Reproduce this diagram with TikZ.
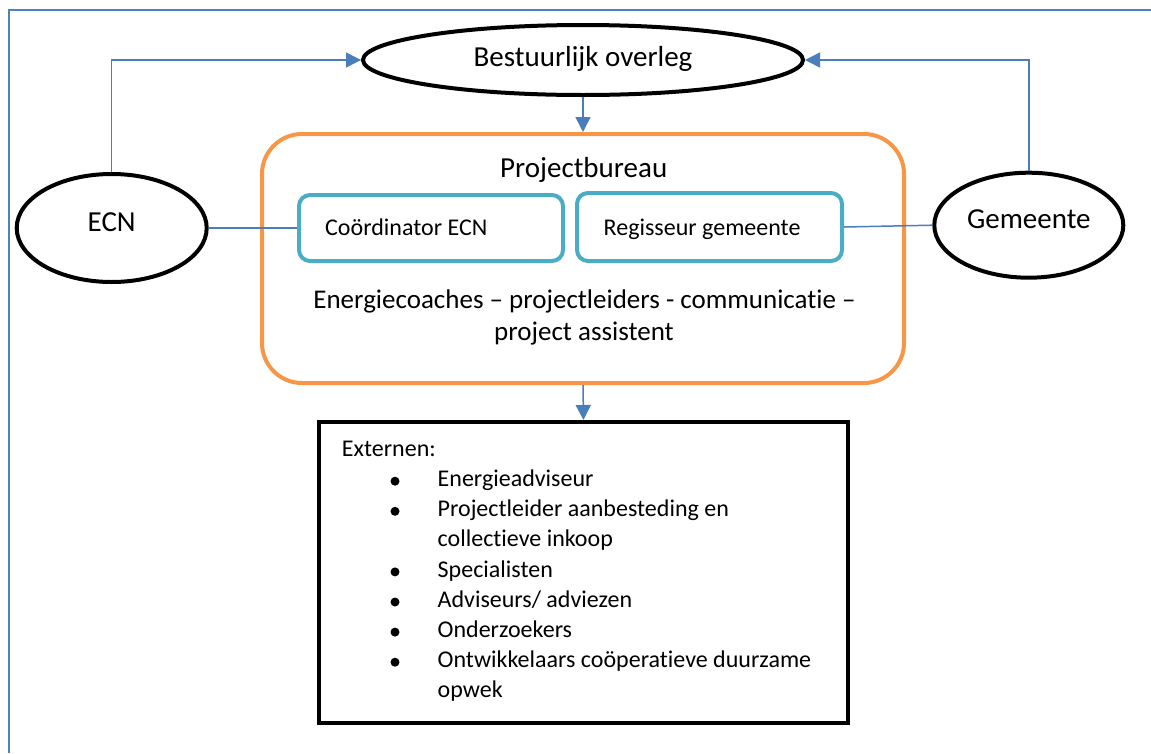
\documentclass[tikz,border=0pt]{standalone}
\usepackage{fontspec}
\setmainfont{Carlito}[Ligatures=NoCommon]
\usetikzlibrary{shapes.geometric,arrows.meta}
\definecolor{connblue}{RGB}{74,126,187}
\definecolor{borderblue}{RGB}{79,129,189}
\definecolor{pborange}{RGB}{247,150,70}
\definecolor{roleteal}{RGB}{75,172,198}
\begin{document}
\begin{tikzpicture}[x=1pt,y=-1pt,
  big/.style={font=\fontsize{29}{34}\selectfont, inner sep=0pt},
  mid/.style={font=\fontsize{27}{32}\selectfont, inner sep=0pt},
  small/.style={font=\fontsize{24}{30}\selectfont, inner sep=0pt},
  oval/.style={ellipse, draw=black, line width=4pt, inner sep=0pt, fill=white,
    font=\fontsize{29}{34}\selectfont, text height=20pt},
  conn/.style={draw=connblue, line width=1.5pt},
  arr/.style={conn, -{Triangle[length=15pt,width=15pt]}},
  rolebox/.style={draw=roleteal, line width=4pt, rounded corners=11pt, inner sep=0pt},
  pbbox/.style={draw=pborange, line width=4pt, rounded corners=40pt, inner sep=0pt},
  extbox/.style={draw=black, line width=4pt, inner sep=0pt},
  bulletdot/.style={circle, fill=black, inner sep=0pt, minimum size=9pt},
  frame/.style={draw=borderblue, line width=2pt}
]
\useasboundingbox (0,0) rectangle (1151,753);
\draw[frame] (1151,10) -- (9,10) -- (9,753);

% ovals
\node[oval, minimum width=440pt, minimum height=70pt, text depth=6.6pt] (bestuur) at (583,60) {Bestuurlijk overleg};
\node[oval, minimum width=190pt, minimum height=108pt, text depth=14pt] (ecn) at (111.7,228) {ECN};
\node[oval, minimum width=189pt, minimum height=105pt, text depth=13pt] (gem) at (1028.8,225.2) {Gemeente};

% projectbureau
\node[pbbox, minimum width=642pt, minimum height=249pt] (pb) at (583,258.5) {};
\node[big, anchor=base] (pbtitle) at (583.7,177) {Projectbureau};
\node[mid, anchor=base] (pbstaff1) at (584.5,308) {Energiecoaches – projectleiders - communicatie –};
\node[mid, anchor=base] (pbstaff2) at (584,340) {project assistent};

\node[rolebox, minimum width=264pt, minimum height=66pt] (coord) at (431,228) {};
\node[small, anchor=base west] (coordt) at (325,235) {Coördinator ECN};
\node[rolebox, minimum width=265pt, minimum height=68pt] (regis) at (709.5,227) {};
\node[small, anchor=base west] (regist) at (603.5,235) {Regisseur gemeente};

% externen
\node[extbox, minimum width=529pt, minimum height=301pt] (ext) at (583.5,572.5) {};
\node[small, anchor=base west] (exttitle) at (341.7,456) {Externen:};
\node[small, anchor=base west] (e1) at (437.5,486.7) {Energieadviseur};
\node[small, anchor=base west] (e2) at (437.5,516.8) {Projectleider aanbesteding en};
\node[small, anchor=base west] (e2b) at (437.5,546.8) {collectieve inkoop};
\node[small, anchor=base west] (e3) at (437.5,577.4) {Specialisten};
\node[small, anchor=base west] (e4) at (437.5,607.5) {Adviseurs/ adviezen};
\node[small, anchor=base west] (e5) at (437.5,637.6) {Onderzoekers};
\node[small, anchor=base west] (e6) at (437.5,667.7) {Ontwikkelaars coöperatieve duurzame};
\node[small, anchor=base west] (e6b) at (437.5,697.5) {opwek};
\foreach \n/\y in {1/486.7,2/516.8,3/577.4,4/607.5,5/637.6,6/667.7}
  \node[bulletdot] (b\n) at (395,\y-5.5) {};

% connectors
\draw[arr] (ecn.north) |- (bestuur.west);
\draw[arr] (gem.north) |- (bestuur.east);
\draw[arr] (bestuur.south) -- (pb.north);
\draw[arr] (pb.south) -- (ext.north);
\draw[conn] (ecn.east) -- (coord.west);
\draw[conn] (regis.east) -- (gem.west);
\end{tikzpicture}
\end{document}
